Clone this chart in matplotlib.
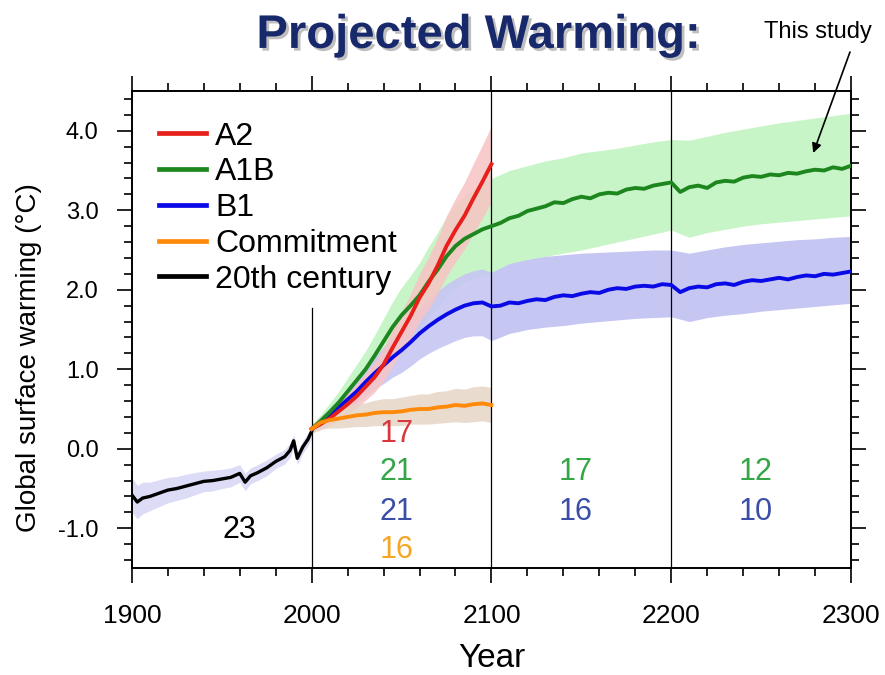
import numpy as np
import matplotlib
matplotlib.use("Agg")
import matplotlib.pyplot as plt
import matplotlib.patheffects as pe
from matplotlib.ticker import MultipleLocator

plt.rcParams["font.family"] = ["Liberation Sans", "DejaVu Sans"]

# 20th century
hist_years = [1900, 1903, 1906, 1910, 1915, 1920, 1925, 1930, 1935, 1940, 1945,
              1950, 1955, 1960, 1963, 1966, 1970, 1975, 1980, 1985, 1988,
              1990, 1992, 1995, 1998, 2000]
hist = [-0.58, -0.67, -0.62, -0.60, -0.56, -0.52, -0.50, -0.47, -0.44, -0.41,
        -0.40, -0.38, -0.36, -0.31, -0.42, -0.34, -0.30, -0.24, -0.16, -0.10,
        -0.02, 0.10, -0.12, 0.02, 0.12, 0.22]
hist_half = [0.22, 0.21, 0.20, 0.18, 0.17, 0.16, 0.15, 0.15, 0.14, 0.13, 0.13,
             0.12, 0.12, 0.11, 0.11, 0.10, 0.10, 0.10, 0.09, 0.09, 0.09,
             0.08, 0.08, 0.08, 0.08, 0.08]

# 21st century, every 5 years
yrs_21 = list(range(2000, 2101, 5))
a2 = [0.25, 0.31, 0.38, 0.47, 0.56, 0.66, 0.78, 0.90, 1.06, 1.27, 1.47, 1.67,
      1.90, 2.08, 2.30, 2.55, 2.75, 2.93, 3.15, 3.36, 3.58]
a2_half = [0.05, 0.07, 0.09, 0.11, 0.13, 0.15, 0.17, 0.19, 0.21, 0.23, 0.25,
           0.28, 0.30, 0.33, 0.35, 0.38, 0.40, 0.42, 0.44, 0.46, 0.48]
a1b_21 = [0.25, 0.35, 0.46, 0.58, 0.72, 0.86, 1.00, 1.17, 1.35, 1.53, 1.68,
          1.80, 1.93, 2.10, 2.25, 2.42, 2.55, 2.64, 2.70, 2.76, 2.80]
a1b_half_21 = [0.05, 0.08, 0.11, 0.14, 0.17, 0.20, 0.23, 0.26, 0.29, 0.32,
               0.35, 0.38, 0.41, 0.44, 0.47, 0.50, 0.52, 0.54, 0.56, 0.58, 0.60]
b1_21 = [0.25, 0.33, 0.42, 0.52, 0.62, 0.72, 0.84, 0.95, 1.05, 1.15, 1.24,
         1.34, 1.45, 1.54, 1.62, 1.69, 1.75, 1.80, 1.83, 1.84, 1.79]
b1_half_21 = [0.05, 0.07, 0.09, 0.11, 0.13, 0.15, 0.18, 0.20, 0.23, 0.25,
              0.28, 0.30, 0.32, 0.34, 0.36, 0.38, 0.39, 0.40, 0.41, 0.42, 0.43]
commit = [0.25, 0.33, 0.36, 0.38, 0.40, 0.42, 0.43, 0.45, 0.46, 0.46, 0.47,
          0.49, 0.50, 0.50, 0.52, 0.53, 0.55, 0.54, 0.56, 0.57, 0.55]
commit_half = [0.05, 0.08, 0.10, 0.12, 0.13, 0.14, 0.15, 0.16, 0.17, 0.17,
               0.18, 0.18, 0.19, 0.19, 0.20, 0.20, 0.21, 0.21, 0.22, 0.22, 0.22]

# 2100-2300 lines, every 5 years
yrs_long = list(range(2100, 2301, 5))
a1b_long = [2.80, 2.84, 2.90, 2.93, 2.99, 3.02, 3.05, 3.10, 3.09, 3.14, 3.17,
            3.15, 3.20, 3.22, 3.21, 3.26, 3.28, 3.27, 3.31, 3.33, 3.35, 3.23,
            3.29, 3.31, 3.28, 3.35, 3.37, 3.36, 3.41, 3.43, 3.42, 3.45, 3.44,
            3.47, 3.46, 3.49, 3.51, 3.50, 3.54, 3.52, 3.56]
b1_long = [1.79, 1.80, 1.84, 1.83, 1.86, 1.88, 1.87, 1.91, 1.93, 1.92, 1.95,
           1.97, 1.96, 2.00, 2.02, 2.01, 2.04, 2.05, 2.04, 2.07, 2.06, 1.97,
           2.02, 2.04, 2.03, 2.07, 2.08, 2.06, 2.10, 2.12, 2.11, 2.13, 2.15,
           2.13, 2.16, 2.18, 2.17, 2.20, 2.19, 2.21, 2.23]

# 2100-2300 spread, every 10 years
band_yrs = list(range(2100, 2301, 10))
a1b_hi = [3.40, 3.50, 3.56, 3.62, 3.66, 3.72, 3.75, 3.78, 3.82, 3.86, 3.89,
          3.88, 3.93, 3.98, 4.02, 4.06, 4.10, 4.13, 4.16, 4.19, 4.22]
a1b_lo = [2.18, 2.28, 2.36, 2.42, 2.46, 2.50, 2.55, 2.60, 2.65, 2.70, 2.75,
          2.66, 2.72, 2.76, 2.80, 2.83, 2.85, 2.87, 2.89, 2.91, 2.93]
b1_hi = [2.22, 2.33, 2.38, 2.42, 2.44, 2.46, 2.47, 2.48, 2.49, 2.50, 2.50,
         2.46, 2.50, 2.54, 2.57, 2.59, 2.61, 2.63, 2.64, 2.66, 2.67]
b1_lo = [1.36, 1.45, 1.50, 1.53, 1.55, 1.58, 1.60, 1.62, 1.64, 1.65, 1.66,
         1.60, 1.65, 1.68, 1.70, 1.73, 1.75, 1.77, 1.79, 1.81, 1.83]

# model counts per period
count_labels = ["23", "17", "21", "21", "16", "17", "16", "12", "10"]
count_x = [1960, 2047, 2047, 2047, 2047, 2147, 2147, 2247, 2247]
count_y = [-1.02, 0.18, -0.29, -0.80, -1.27, -0.29, -0.80, -0.29, -0.80]
count_colors = ["black", "#d9363e", "#33a645", "#3a4ea8", "#f5a623",
                "#33a645", "#3a4ea8", "#33a645", "#3a4ea8"]

ytick_vals = [-1.0, 0.0, 1.0, 2.0, 3.0, 4.0]
ytick_labels = ["-1.0", "0.0", "1.0", "2.0", "3.0", "4.0"]
xtick_vals = [1900, 2000, 2100, 2200, 2300]

c_a2, c_a1b, c_b1, c_com = "#e8201c", "#1e861e", "#0a0ae6", "#ff8a0a"

fig = plt.figure(figsize=(8.85, 6.75), dpi=100)
ax = fig.add_axes([0.149, 0.1585, 0.8126, 0.7067])


def band(x, y, h, color, alpha=1.0):
    y = np.array(y)
    h = np.array(h)
    ax.fill_between(x, y - h, y + h, color=color, alpha=alpha, lw=0, zorder=1)


band(hist_years, hist, hist_half, "#dcdcf7")
band(yrs_21, a1b_21, a1b_half_21, "#c8f5c8")
ax.fill_between(band_yrs, a1b_lo, a1b_hi, color="#c8f5c8", lw=0, zorder=1)
band(yrs_21, b1_21, b1_half_21, "#c6c6f3", alpha=0.9)
ax.fill_between(band_yrs, b1_lo, b1_hi, color="#c6c6f3", lw=0, zorder=1)
band(yrs_21, a2, a2_half, "#f7c4c4", alpha=0.85)
band(yrs_21, commit, commit_half, "#e6d6c6", alpha=0.85)

ax.axvline(2100, color="black", lw=0.9, zorder=2)
ax.axvline(2200, color="black", lw=0.9, zorder=2)
ax.plot([2000, 2000], [-1.5, 1.77], color="black", lw=0.9, zorder=2)

lw = 2.8
ax.plot(hist_years, hist, color="black", lw=2.4, zorder=3)
ax.plot(yrs_21 + yrs_long[1:], b1_21 + b1_long[1:], color=c_b1, lw=lw, zorder=4)
ax.plot(yrs_21 + yrs_long[1:], a1b_21 + a1b_long[1:], color=c_a1b, lw=lw, zorder=4)
ax.plot(yrs_21, a2, color=c_a2, lw=lw, zorder=5)
ax.plot(yrs_21, commit, color=c_com, lw=lw, zorder=6)

for lab, x, y, c in zip(count_labels, count_x, count_y, count_colors):
    ax.text(x, y, lab, color=c, fontsize=22, ha="center", va="center")

handles = [plt.Line2D([], [], color=c, lw=3.4) for c in [c_a2, c_a1b, c_b1, c_com, "black"]]
ax.legend(handles, ["A2", "A1B", "B1", "Commitment", "20th century"],
          loc="upper left", bbox_to_anchor=(0.038, 0.936), frameon=False,
          fontsize=23, handlelength=1.45, handletextpad=0.3,
          labelspacing=0.18, borderpad=0, borderaxespad=0)

ax.set_xlim(1900, 2300)
ax.set_ylim(-1.5, 4.5)
ax.set_xticks(xtick_vals)
ax.xaxis.set_minor_locator(MultipleLocator(20))
ax.set_yticks(ytick_vals)
ax.set_yticklabels(ytick_labels)
ax.yaxis.set_minor_locator(MultipleLocator(0.2))
ax.tick_params(which="both", direction="out", top=True, right=True, width=1.2)
ax.tick_params(which="major", length=11)
ax.tick_params(which="minor", length=6)
ax.tick_params(axis="x", labelsize=19, pad=15)
ax.tick_params(axis="y", labelsize=17, pad=13)
for s in ax.spines.values():
    s.set_linewidth(1.4)

ax.set_xlabel("Year", fontsize=24)
ax.xaxis.set_label_coords(0.5, -0.157)
ax.set_ylabel("Global surface warming (\u00b0C)", fontsize=20)
ax.yaxis.set_label_coords(-0.125, 0.442)

fig.text(0.541, 0.929, "Projected Warming:", fontsize=34, fontweight="bold",
         color="#17286b", ha="center", va="baseline",
         path_effects=[pe.withSimplePatchShadow(offset=(2, -2), shadow_rgbFace="gray", alpha=0.5)])

fig.text(0.924, 0.9437, "This study", fontsize=17, ha="center", va="baseline")
ax.annotate("", xy=(2279, 3.72), xytext=(850 / 885, 1 - 52 / 675),
            textcoords="figure fraction",
            arrowprops=dict(arrowstyle="-|>", color="black", lw=1.2,
                            shrinkA=0, shrinkB=0, mutation_scale=14))

fig.savefig("out.png", dpi=100)
